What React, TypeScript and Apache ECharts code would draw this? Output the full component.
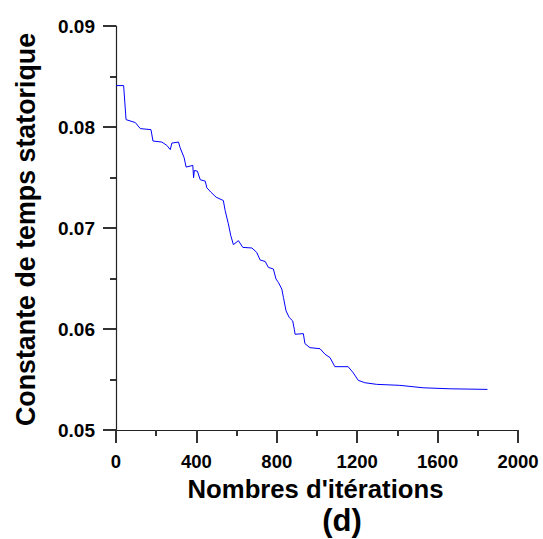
import React, { useEffect, useRef } from "react";
import * as echarts from "echarts";

const iterations = [0, 38, 50, 96, 121, 174, 184, 228, 253, 270, 278, 311, 319, 339, 349, 382, 386, 390, 405, 419, 444, 452, 472, 498, 534, 543, 559, 571, 584, 609, 631, 676, 700, 717, 742, 758, 783, 796, 808, 825, 833, 846, 862, 879, 887, 891, 932, 940, 965, 1015, 1040, 1065, 1089, 1155, 1180, 1205, 1238, 1297, 1412, 1528, 1661, 1848];
const values = [0.0841, 0.0841, 0.08073, 0.08044, 0.07984, 0.07974, 0.07861, 0.07851, 0.07818, 0.07776, 0.07841, 0.07851, 0.07795, 0.07696, 0.07603, 0.0762, 0.07498, 0.0757, 0.07563, 0.07478, 0.07464, 0.07398, 0.07355, 0.07305, 0.07272, 0.07173, 0.07041, 0.06925, 0.06835, 0.06875, 0.06808, 0.06802, 0.06759, 0.06683, 0.06669, 0.0661, 0.06594, 0.06495, 0.06461, 0.06395, 0.06312, 0.0618, 0.06113, 0.0608, 0.05998, 0.05948, 0.05954, 0.05855, 0.05815, 0.05805, 0.0575, 0.05716, 0.05627, 0.05627, 0.05567, 0.05492, 0.05468, 0.05452, 0.05442, 0.05418, 0.05408, 0.05402];

const xTitle = "Nombres d'itérations";
const yTitle = "Constante de temps statorique";
const subTitle = "(d)";

const FONT = "'Liberation Sans', Arial, sans-serif";

const mkLine = () => ({ show: true, lineStyle: { color: "#222222", width: 1.2 } });
const mkTick = () => ({ show: true, inside: false, length: 13, lineStyle: { color: "#333333", width: 2 } });
const mkMinor = () => ({ show: true, splitNumber: 2, length: 6, lineStyle: { color: "#333333", width: 2 } });

export default function App() {
  const ref = useRef<HTMLDivElement>(null);
  useEffect(() => {
    if (!ref.current) return;
    const chart = echarts.init(ref.current, null, { renderer: "svg" });
    const data = iterations.map((x, i) => [x, values[i]]);
    chart.setOption({
      animation: false,
      grid: { left: 116, right: 25, top: 26, bottom: 109, containLabel: false },
      xAxis: {
        type: "value",
        min: 0,
        max: 2000,
        interval: 400,
        axisLine: mkLine(),
        axisTick: mkTick(),
        minorTick: mkMinor(),
        splitLine: { show: false },
        axisLabel: {
          margin: 22,
          fontSize: 18.5,
          lineHeight: 18,
          fontWeight: "bold",
          color: "#000",
          fontFamily: FONT,
          formatter: (v: number) => String(v),
        },
      },
      yAxis: {
        type: "value",
        min: 0.05,
        max: 0.09,
        interval: 0.01,
        axisLine: mkLine(),
        axisTick: mkTick(),
        minorTick: mkMinor(),
        splitLine: { show: false },
        axisLabel: {
          margin: 21,
          fontSize: 19,
          fontWeight: "bold",
          color: "#000",
          fontFamily: FONT,
          formatter: (v: number) => v.toFixed(2),
        },
      },
      series: [
        {
          type: "line",
          data,
          showSymbol: false,
          lineStyle: { color: "#0000ff", width: 1 },
          itemStyle: { color: "#0000ff" },
        },
      ],
      graphic: [
        {
          type: "text",
          x: 315.5,
          y: 488.5,
          style: { text: xTitle, fontSize: 25.7, lineHeight: 26, fontWeight: "bold", fontFamily: FONT, fill: "#000", textAlign: "center", textVerticalAlign: "middle" },
        },
        {
          type: "text",
          x: 342,
          y: 520.5,
          style: { text: subTitle, fontSize: 31, lineHeight: 31, fontWeight: "bold", fontFamily: FONT, fill: "#000", textAlign: "center", textVerticalAlign: "middle" },
        },
        {
          type: "text",
          x: 26,
          y: 229.5,
          rotation: Math.PI / 2,
          style: { text: yTitle, fontSize: 26.8, fontWeight: "bold", fontFamily: FONT, fill: "#000", textAlign: "center", textVerticalAlign: "middle" },
        },
      ],
    });
    return () => chart.dispose();
  }, []);
  return <div ref={ref} style={{ width: 543, height: 539, position: "absolute", left: 0, top: 0 }} />;
}
